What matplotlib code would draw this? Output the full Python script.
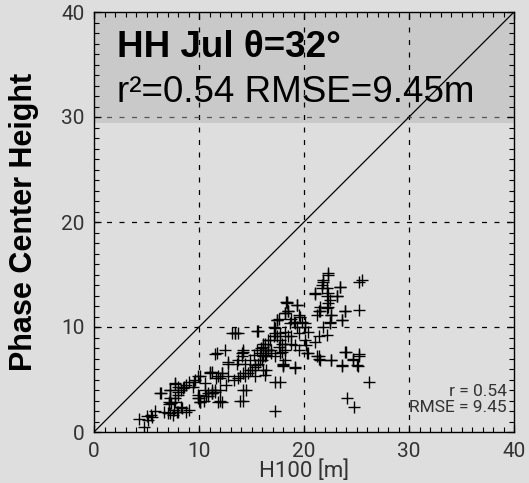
import matplotlib
matplotlib.use("Agg")
import matplotlib.pyplot as plt
from matplotlib.ticker import MultipleLocator

# Forest height (H100) vs. InSAR phase center height, HH polarisation, July
h100 = [
    4.8, 4.3, 5.1, 5.4, 5.8, 5.5, 5.0, 6.3, 7.2, 7.7, 8.0, 7.1, 7.3, 7.0, 7.5, 8.0,
    8.3, 9.0, 7.7, 8.0, 8.3, 8.6, 9.0, 9.6, 9.9, 10.0, 10.1, 9.9, 10.5, 10.9, 11.2,
    11.5, 11.0, 11.6, 11.5, 10.6, 9.4, 6.7,
    13.4, 13.1, 15.5, 11.7, 12.5, 12.8, 14.1, 14.2, 13.7, 11.2, 11.8, 12.2, 12.8,
    13.3, 13.7, 14.4, 14.7, 15.0, 15.3, 15.6, 16.0, 16.3, 15.8, 16.1, 16.3, 16.6,
    16.9, 16.4, 15.3, 14.5, 14.2, 17.7, 18.0, 18.2, 17.9, 17.4, 17.2, 17.4, 18.2,
    18.4, 18.7, 17.7, 12.0, 10.9, 11.2,
    22.3, 21.8, 21.7, 22.2, 23.4, 25.2, 25.5, 21.0, 22.3, 23.1, 22.5, 22.3, 21.5,
    21.4, 21.2, 23.9, 25.2, 23.6, 22.6, 22.5, 21.8, 22.2, 21.4, 21.0, 18.4, 19.3,
    18.5, 17.6, 19.5, 19.8, 19.0, 19.3, 20.1, 20.4, 19.5, 18.8, 18.2, 17.7, 17.1,
    16.6, 17.6, 18.2, 19.1, 20.1, 20.2, 16.9, 17.9, 19.5, 16.4, 17.2, 18.2, 20.4,
    21.2, 21.4, 22.6, 23.9, 24.7, 25.2, 25.0, 23.6, 19.1, 18.0,
    20.3, 21.4, 21.5, 22.6, 24.0, 25.2, 24.7, 23.6, 25.1, 26.2, 24.1, 24.8, 17.2,
    14.2, 13.9, 17.2, 11.8,
    18.2, 18.8, 17.4, 19.1, 17.1, 13.4, 13.7, 15.6, 17.2, 16.8, 18.5, 18.8, 16.1,
    15.9, 15.5, 16.6, 14.2, 14.1, 15.2, 16.1, 14.9, 15.8, 17.7, 14.4, 15.3, 13.6,
    18.0, 19.1, 14.9, 16.1, 14.2, 16.3, 13.9,
    12.8, 11.0, 12.2, 12.0, 12.6, 10.1, 9.5, 8.8, 7.7, 8.5, 8.0, 6.4, 7.2, 7.2,
    7.7, 7.1, 7.6, 7.2, 7.9, 8.8, 8.4, 9.9, 10.1, 10.7, 11.2, 11.5, 12.0, 12.2, 10.6,
    22.3, 21.8, 23.4, 21.7, 21.0, 22.2, 23.1, 22.3, 18.3, 19.3, 22.2, 18.5, 21.5,
    23.9, 22.6, 23.6, 19.6, 20.1, 22.5,
]
phase_height = [
    0.5, 1.2, 1.1, 1.6, 2.0, 1.4, 1.5, 3.7, 4.0, 4.7, 4.3, 2.9, 2.8, 1.8, 1.6, 1.9,
    2.4, 2.1, 3.2, 3.5, 4.0, 4.3, 4.8, 5.0, 5.3, 3.2, 2.9, 3.5, 3.0, 3.4, 3.7,
    4.0, 5.6, 5.1, 7.4, 4.7, 4.3, 1.9,
    9.4, 9.4, 9.6, 7.5, 7.8, 6.7, 7.5, 7.8, 6.9, 5.7, 5.3, 5.6, 5.3,
    5.0, 5.1, 5.3, 5.6, 5.9, 6.2, 6.5, 6.9, 7.2, 7.5, 8.1, 8.4, 7.8,
    7.5, 5.9, 5.3, 4.0, 3.0, 4.8, 6.4, 7.8, 8.4, 9.1, 9.9, 10.7, 11.3,
    12.3, 10.4, 9.4, 3.0, 3.7, 4.0,
    15.1, 14.5, 14.0, 13.7, 13.8, 14.3, 14.5, 13.2, 13.2, 13.0, 12.6, 11.9, 11.9,
    11.5, 11.1, 11.5, 11.6, 10.7, 11.1, 10.5, 10.0, 9.2, 9.1, 8.6, 12.4, 12.1,
    11.5, 10.8, 11.1, 10.5, 10.5, 10.0, 10.0, 9.5, 9.4, 9.1, 9.5, 8.8, 9.1,
    8.8, 8.1, 8.4, 8.3, 8.8, 8.3, 7.8, 7.6, 7.8, 7.3, 7.2, 6.9, 7.5,
    7.2, 7.0, 6.9, 7.6, 7.0, 7.2, 6.4, 6.4, 6.2, 6.3,
    7.5, 7.2, 6.9, 6.9, 7.6, 7.4, 6.9, 6.3, 6.3, 4.8, 3.2, 2.4, 2.0,
    4.0, 3.0, 4.8, 2.9,
    11.3, 10.8, 10.7, 10.4, 10.0, 9.4, 9.4, 9.6, 9.4, 8.8, 9.1, 8.4, 8.4,
    8.0, 7.8, 7.8, 7.6, 7.2, 7.3, 7.2, 6.9, 6.9, 7.5, 6.5, 6.4, 6.5,
    6.5, 6.1, 5.9, 5.9, 5.6, 5.4, 5.3,
    6.5, 5.7, 5.6, 5.1, 4.5, 5.3, 4.8, 4.5, 4.6, 4.2, 3.8, 3.7, 4.0, 3.2,
    2.9, 2.7, 2.1, 1.8, 1.9, 1.9, 2.3, 3.2, 2.9, 3.4, 3.7, 3.8, 4.0, 2.9, 4.0,
    15.0, 14.3, 13.8, 13.7, 13.1, 13.0, 13.0, 12.3, 12.4, 12.1, 11.8, 11.5, 11.5,
    11.5, 11.1, 10.7, 11.0, 10.4, 10.4,
]

axis_max = 40
major_ticks = [0, 10, 20, 30, 40]
band_bottom = 29.4

title_line1 = "HH Jul θ=32°"
title_line2 = "r²=0.54 RMSE=9.45m"
stats_text = "r = 0.54\nRMSE = 9.45"

bg = "#dedede"
band_color = "#c9c9c9"
tick_font = ["Roboto", "DejaVu Sans"]
label_color = "#333333"
head_font = ["Liberation Sans", "DejaVu Sans"]

fig = plt.figure(figsize=(5.29, 4.83), dpi=100, facecolor=bg)
ax = fig.add_axes([94 / 529, 1 - 432 / 483, 420 / 529, 420 / 483], facecolor=bg)

ax.set_xlim(0, axis_max)
ax.set_ylim(0, axis_max)

# Shaded header band
ax.axhspan(band_bottom, axis_max, color=band_color, zorder=0.5, lw=0)

# Dashed reference grid
for v in major_ticks[1:-1]:
    ax.axvline(v, color="black", ls=(0, (4, 6)), lw=0.9, zorder=1)
    ax.axhline(v, color="#555555" if v == 30 else "black", ls=(0, (4, 6)), lw=0.9, zorder=1)

# 1:1 line
ax.plot([0, axis_max], [0, axis_max], color="black", lw=0.9, zorder=2)

# Observations
ax.plot(h100, phase_height, ls="none", marker="+", ms=8.5, mew=1.0, color="black", zorder=3)

ax.xaxis.set_major_locator(MultipleLocator(10))
ax.yaxis.set_major_locator(MultipleLocator(10))
ax.xaxis.set_minor_locator(MultipleLocator(1))
ax.yaxis.set_minor_locator(MultipleLocator(1))
ax.tick_params(which="both", direction="in", top=True, right=True, color="black")
ax.tick_params(which="major", length=5, width=0.9, labelsize=15, labelcolor=label_color, pad=7)
ax.tick_params(which="minor", length=3.5, width=0.8)
for lab in ax.get_xticklabels() + ax.get_yticklabels():
    lab.set_family(tick_font)
for s in ax.spines.values():
    s.set_linewidth(1.0)

ax.set_xlabel("H100 [m]", fontsize=16, color=label_color, family=tick_font,
              labelpad=0)
ax.set_ylabel("Phase Center Height", fontsize=22, fontweight="bold",
              family=head_font, labelpad=16)

ax.text(2.2, 35.7, title_line1, fontsize=26.5, fontweight="bold",
        family=head_font, ha="left", va="baseline")
ax.text(2.2, 31.4, title_line2, fontsize=26.5,
        family=head_font, ha="left", va="baseline")

ax.text(39.3, 1.9, stats_text, fontsize=12.5, family=tick_font,
        ha="right", va="baseline", linespacing=1.05, color=label_color)

fig.savefig("out.png", dpi=100, facecolor=bg)
